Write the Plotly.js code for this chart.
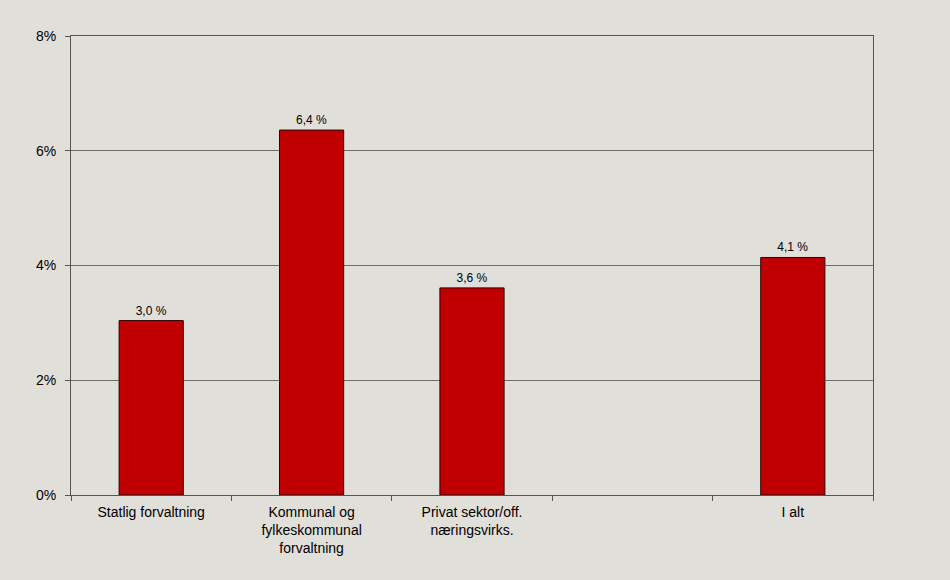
<!DOCTYPE html>
<html>
<head>
<meta charset="utf-8">
<script src="https://cdn.plot.ly/plotly-3.0.1.min.js"></script>
<style>html,body{margin:0;padding:0;background:#e0dfda;}</style>
</head>
<body>
<div id="chart" style="width:950px;height:580px;"></div>
<script>
const categories = ["Statlig forvaltning", "Kommunal og<br>fylkeskommunal<br>forvaltning", "Privat sektor/off.<br>næringsvirks.", " ", "I alt"];
const values = [3.04, 6.36, 3.61, null, 4.14];
const valueLabels = ["3,0 %", "6,4 %", "3,6 %", "", "4,1 %"];
const yTickVals = [0, 2, 4, 6, 8];
const yTickText = ["0%", "2%", "4%", "6%", "8%"];

const trace = {
  type: "bar",
  x: categories,
  y: values,
  text: valueLabels,
  textposition: "outside",
  cliponaxis: false,
  textfont: {family: "Liberation Sans, Arial, sans-serif", size: 12, color: "#000"},
  marker: {color: "#c00000", line: {color: "#2a0000", width: 1}},
  width: 0.4,
  hoverinfo: "none"
};

const layout = {
  width: 950, height: 580,
  paper_bgcolor: "#e0dfda",
  plot_bgcolor: "#e0dfda",
  margin: {l: 71, r: 77, t: 36, b: 85},
  showlegend: false,
  font: {family: "Liberation Sans, Arial, sans-serif", size: 14, color: "#000"},
  xaxis: {
    type: "category",
    tickson: "boundaries",
    ticks: "outside", ticklen: 5, tickcolor: "#555",
    showline: true, linecolor: "#555", linewidth: 1, mirror: true,
    showgrid: false,
    tickfont: {size: 14},
    ticklabelstandoff: 4,
    fixedrange: true
  },
  yaxis: {
    range: [0, 8],
    tickvals: yTickVals, ticktext: yTickText,
    ticks: "outside", ticklen: 5, tickcolor: "#555",
    showline: true, linecolor: "#555", linewidth: 1, mirror: true,
    showgrid: true, gridcolor: "#6e6e6e", gridwidth: 1,
    zeroline: false,
    tickfont: {size: 14},
    ticklabelstandoff: 6,
    fixedrange: true
  },
  bargap: 0.6
};

Plotly.newPlot("chart", [trace], layout, {displayModeBar: false, staticPlot: true});
</script>
</body>
</html>
